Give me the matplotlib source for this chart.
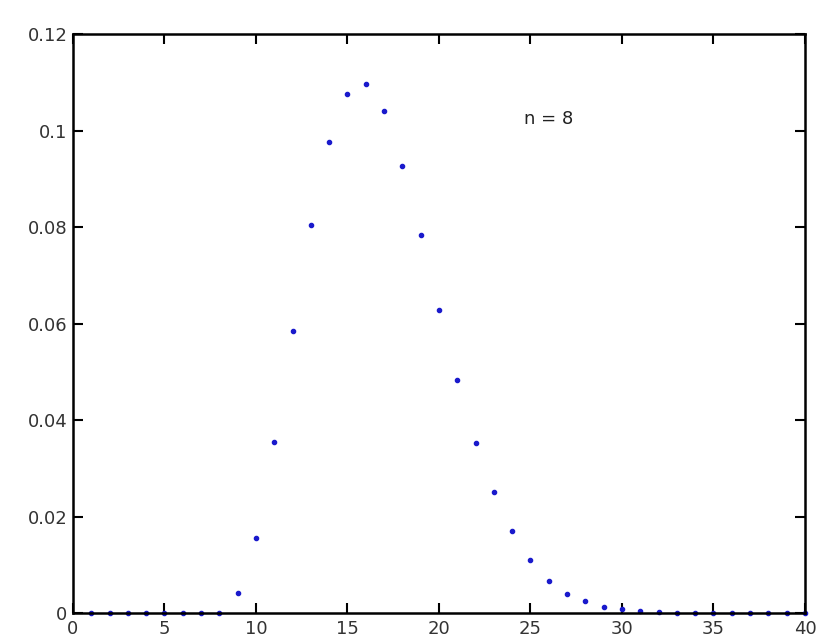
import numpy as np
import matplotlib
matplotlib.use("Agg")
import matplotlib.pyplot as plt
from matplotlib.ticker import FuncFormatter

plt.rcParams['font.family'] = ['DejaVu Sans']

# probability of each count, n = 8
k = np.arange(1, 41)
p = [0, 0, 0, 0, 0, 0, 0, 0,
     0.0041, 0.0155, 0.0354, 0.0584, 0.0805, 0.0976, 0.1075, 0.1096,
     0.1040, 0.0926, 0.0784, 0.0629, 0.0483, 0.0352, 0.0251, 0.0170,
     0.0111, 0.0067, 0.0040, 0.0026, 0.0013, 0.0008, 0.0005, 0.0002,
     0.0001, 0.0001, 0, 0, 0, 0, 0, 0]
xticks = [0, 5, 10, 15, 20, 25, 30, 35, 40]
yticks = [0, 0.02, 0.04, 0.06, 0.08, 0.1, 0.12]

fig = plt.figure(figsize=(8.21, 6.44), dpi=100)
ax = fig.add_axes([0.0889, 0.048, 0.8916, 0.899])

ax.plot(k, p, '.', color='#1a1acc', markersize=6, clip_on=False)
ax.text(24.65, 0.1013, 'n = 8', fontsize=13, va='baseline', ha='left', color='#222222')

ax.set_xlim(0, 40)
ax.set_ylim(0, 0.12)
ax.set_xticks(xticks)
ax.set_yticks(yticks)
ax.yaxis.set_major_formatter(FuncFormatter(lambda v, pos: '%g' % round(v, 4)))
ax.tick_params(direction='in', length=7, width=1.5, top=True, right=True,
               labelsize=13, labelcolor='#333333')
ax.tick_params(axis='x', pad=5)
ax.tick_params(axis='y', pad=4)
for s in ax.spines.values():
    s.set_linewidth(1.8)

fig.savefig('out.png', dpi=100)
